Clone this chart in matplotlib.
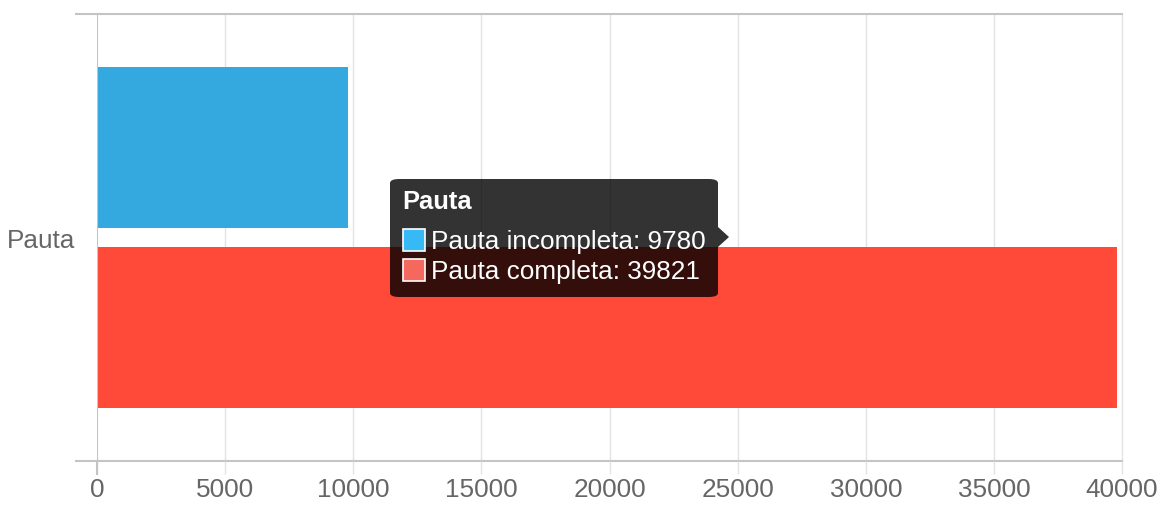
import matplotlib
matplotlib.use("Agg")
from matplotlib import pyplot as plt
from matplotlib.patches import FancyBboxPatch, Polygon, Rectangle

# data
category = "Pauta"
series_names = ["Pauta incompleta", "Pauta completa"]
series_values = [9780, 39821]
series_colors = ["#34A9E0", "#FF4A3A"]
legend_colors = ["#36B9F5", "#F4685E"]
x_ticks = [0, 5000, 10000, 15000, 20000, 25000, 30000, 35000, 40000]

W, H = 1164, 510
plt.rcParams["font.family"] = ["Liberation Sans", "DejaVu Sans"]

fig = plt.figure(figsize=(W / 100, H / 100), dpi=100)
ax = fig.add_axes([97 / W, 1 - 462 / H, (1122 - 97) / W, (462 - 15) / H])

bar_h = 0.36
offsets = [-0.2013, 0.2013]
for name, val, col, off in zip(series_names, series_values, series_colors, offsets):
    ax.barh(off, val, height=bar_h, color=col, label=name, zorder=2)

ax.set_xlim(0, 40000)
ax.set_ylim(0.5, -0.5)

grid_c = "#e3e3e3"
axis_c = "#c4c4c4"
for s in ax.spines.values():
    s.set_visible(False)

ax.set_xticks(x_ticks)
ax.set_xticklabels([str(t) for t in x_ticks])
ax.tick_params(axis="x", length=9.4, width=1, color=grid_c, labelcolor="#666666",
               labelsize=18.8, pad=2)
for xv in x_ticks[1:]:
    ax.axvline(xv, color=grid_c, linewidth=1, zorder=0, clip_on=False)

ax.set_yticks([0])
ax.set_yticklabels([category])
ax.set_yticks([-0.5, 0.5], minor=True)
ax.tick_params(axis="y", which="major", length=0, labelcolor="#666666", labelsize=18.8, pad=15.8)
ax.tick_params(axis="y", which="minor", length=15.8, width=1.5, color=axis_c)
for yv in [-0.5, 0.5]:
    ax.axhline(yv, color=axis_c, linewidth=1.5, zorder=1, clip_on=False)
ax.axvline(0, color=axis_c, linewidth=1.5, zorder=3)
# extend y axis line below the bottom
ax.plot([0, 0], [0.5, 0.53], color=axis_c, linewidth=1.5, clip_on=False, zorder=3)

# tooltip (pixel coords)
def px(x, y):
    return (x / W, 1 - y / H)

tx0, ty0, tx1, ty1 = 390, 180, 718, 298
box = FancyBboxPatch(px(tx0, ty1), (tx1 - tx0) / W, (ty1 - ty0) / H,
                     boxstyle="round,pad=0,rounding_size=0.008",
                     transform=fig.transFigure, facecolor="black", alpha=0.8,
                     edgecolor="none", zorder=10)
fig.patches.append(box)
caret = Polygon([px(tx1, 228), px(729, 238), px(tx1, 248)], closed=True,
                transform=fig.transFigure, facecolor="black", alpha=0.8,
                edgecolor="none", zorder=10)
fig.patches.append(caret)

fig.text(*px(402, 202), category, color="white", fontsize=18.4, fontweight="bold",
         va="center", ha="left", zorder=11)
for i, (name, val, col) in enumerate(zip(series_names, series_values, legend_colors)):
    yc = 241 + i * 30
    sq = Rectangle(px(403, yc + 11), 22 / W, 22 / H, transform=fig.transFigure,
                   facecolor=col, edgecolor="white", linewidth=1.2, zorder=11)
    fig.patches.append(sq)
    fig.text(*px(431, yc + 1), f"{name}: {val}", color="white", fontsize=18.8,
             va="center", ha="left", zorder=11)

fig.savefig("out.png", dpi=100)
